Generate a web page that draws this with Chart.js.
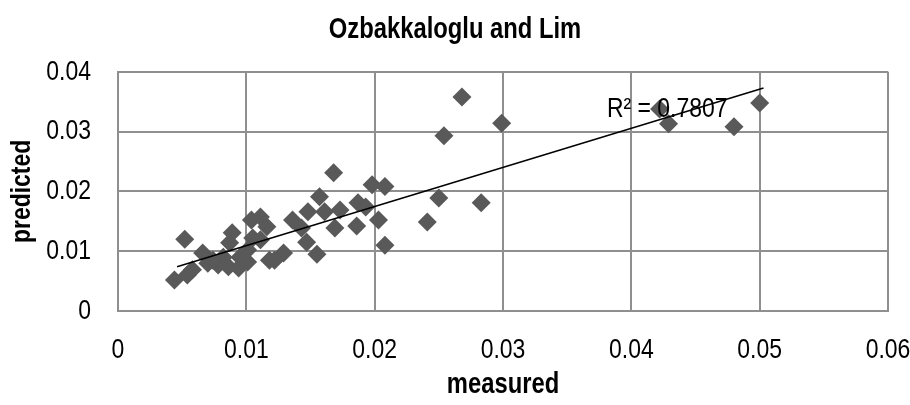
<!DOCTYPE html>
<html>
<head>
<meta charset="utf-8">
<script src="https://cdn.jsdelivr.net/npm/chart.js@4"></script>
<style>
  body { margin: 0; background: #fff; }
</style>
</head>
<body>
<canvas id="chart" width="910" height="405"></canvas>
<script>
// measured vs predicted values
const measured = [
  0.0422, 0.0429, 0.0480, 0.0500,
  0.0268, 0.0254, 0.0299, 0.0250, 0.0283, 0.0241,
  0.0168, 0.0198, 0.0208, 0.0157, 0.0187, 0.0193, 0.0148, 0.0161, 0.0173, 0.0203,
  0.0136, 0.0169, 0.0186, 0.0208, 0.0143, 0.0147, 0.0155, 0.0122, 0.0129,
  0.0052, 0.0044, 0.0054, 0.0058, 0.0066, 0.0070, 0.0078, 0.0086, 0.0089, 0.0087,
  0.0094, 0.0095, 0.0101, 0.0104, 0.0111, 0.0116, 0.0105, 0.0118, 0.0082, 0.0074,
  0.0101, 0.0111
];
const predicted = [
  0.0338, 0.0313, 0.0308, 0.0348,
  0.0358, 0.0293, 0.0314, 0.0189, 0.0181, 0.0149,
  0.0231, 0.0211, 0.0208, 0.0191, 0.0181, 0.0174, 0.0166, 0.0166, 0.0169, 0.0152,
  0.0152, 0.0139, 0.0142, 0.0110, 0.0139, 0.0115, 0.0095, 0.0085, 0.0097,
  0.0120, 0.0052, 0.0060, 0.0069, 0.0097, 0.0080, 0.0077, 0.0074, 0.0131, 0.0114,
  0.0072, 0.0090, 0.0102, 0.0152, 0.0157, 0.0141, 0.0122, 0.0085, 0.0090, 0.0085,
  0.0082, 0.0119
];
// linear trend line end points
const trendX = [0.0046, 0.0503];
const trendY = [0.0074, 0.0373];
const rSquared = 'R² = 0.7807';

const xTicks = [0, 0.01, 0.02, 0.03, 0.04, 0.05, 0.06];
const yTicks = [0, 0.01, 0.02, 0.03, 0.04];

const fontFamily = '"Liberation Sans", Arial, sans-serif';
const gridColor = '#8f8f8f';
const narrow = 0.82; // no narrow font installed, squeeze text horizontally instead

const canvas = document.getElementById('chart');
const c2d = canvas.getContext('2d');
const origFill = c2d.fillText.bind(c2d);
const origMeasure = c2d.measureText.bind(c2d);
c2d.fillText = function (text, x, y, maxWidth) {
  c2d.save();
  c2d.translate(x, y);
  c2d.scale(narrow, 1);
  origFill(text, 0, 0);
  c2d.restore();
};
c2d.measureText = function (text) {
  const m = origMeasure(text);
  return { width: m.width * narrow, actualBoundingBoxAscent: m.actualBoundingBoxAscent, actualBoundingBoxDescent: m.actualBoundingBoxDescent };
};

const points = measured.map((m, i) => ({ x: m, y: predicted[i] }));
const trend = trendX.map((x, i) => ({ x: x, y: trendY[i] }));

const r2Label = {
  id: 'r2Label',
  afterDatasetsDraw(chart) {
    const ctx = chart.ctx;
    const px = chart.scales.x.getPixelForValue(0.0428);
    const py = chart.scales.y.getPixelForValue(0.0337);
    ctx.save();
    ctx.font = '28px ' + fontFamily;
    ctx.fillStyle = '#000';
    ctx.textAlign = 'center';
    ctx.textBaseline = 'middle';
    ctx.fillText(rSquared, px, py);
    ctx.restore();
  }
};

new Chart(canvas, {
  type: 'scatter',
  data: {
    datasets: [{
        type: 'line',
        label: 'trend',
        data: trend,
        borderColor: '#000',
        borderWidth: 1.5,
        pointRadius: 0,
        fill: false
      }, {
        label: 'data',
        data: points,
        pointStyle: 'rectRot',
        pointRadius: 9.5,
        pointHoverRadius: 9.5,
        backgroundColor: '#595959',
        borderWidth: 0
    }]
  },
  options: {
    responsive: false,
    animation: false,
    layout: { padding: 0 },
    plugins: {
      legend: { display: false },
      tooltip: { enabled: false },
      title: {
        display: true,
        text: 'Ozbakkaloglu and Lim',
        color: '#000',
        font: { family: fontFamily, size: 29, weight: 'bold' },
        padding: { top: 13, bottom: 24 }
      }
    },
    scales: {
      x: {
        type: 'linear',
        min: 0,
        max: 0.06,
        afterBuildTicks: s => { s.ticks = xTicks.map(v => ({ value: v })); },
        afterFit: s => { s.height = 94; s.paddingLeft = 8; s.paddingRight = 22; },
        grid: { color: gridColor, lineWidth: 2, drawTicks: false },
        border: { color: gridColor, width: 2 },
        ticks: {
          color: '#000',
          padding: 22,
          maxRotation: 0,
          font: { family: fontFamily, size: 28 },
          callback: v => +v.toFixed(2)
        },
        title: {
          display: true,
          text: 'measured',
          color: '#000',
          font: { family: fontFamily, size: 29, weight: 'bold' },
          padding: { top: 0, bottom: 3 }
        }
      },
      y: {
        type: 'linear',
        min: 0,
        max: 0.04,
        afterBuildTicks: s => { s.ticks = yTicks.map(v => ({ value: v })); },
        afterFit: s => { s.width = 118; },
        grid: { color: gridColor, lineWidth: 2, drawTicks: false },
        border: { color: gridColor, width: 2 },
        ticks: {
          color: '#000',
          padding: 27,
          font: { family: fontFamily, size: 28 },
          callback: v => +v.toFixed(2)
        },
        title: {
          display: true,
          text: 'predicted',
          color: '#000',
          font: { family: fontFamily, size: 28, weight: 'bold' },
          padding: { top: 5, bottom: 0 }
        }
      }
    }
  },
  plugins: [r2Label]
});
</script>
</body>
</html>
